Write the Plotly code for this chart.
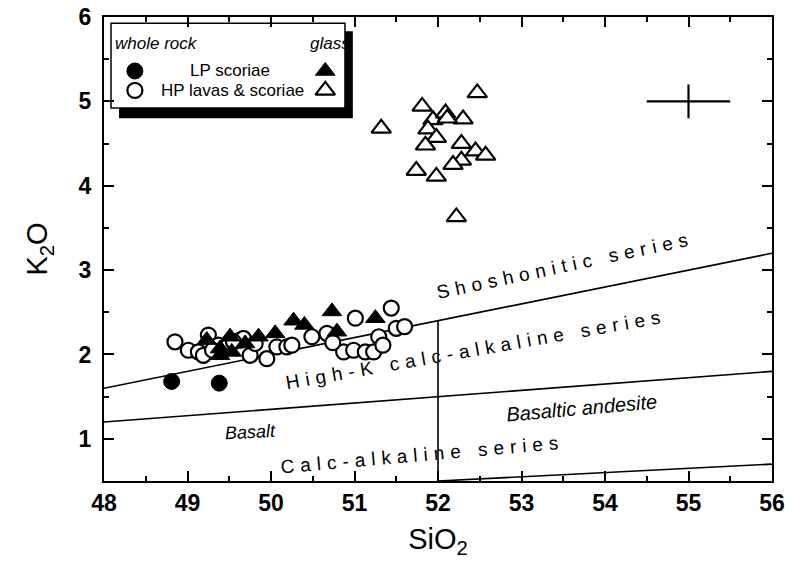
import plotly.graph_objects as go

# ---------------- data ----------------
# LP scoriae, whole rock (filled circles)
lp_wr_sio2 = [48.81, 49.38]
lp_wr_k2o = [1.68, 1.66]

# HP lavas & scoriae, whole rock (open circles)
hp_wr_sio2 = [48.85, 49.01, 49.13, 49.25, 49.19, 49.37, 49.49, 49.63, 49.67, 49.75,
              49.81, 49.95, 50.07, 50.19, 50.25, 50.49, 50.67, 50.87, 51.01, 50.99,
              51.13, 51.23, 51.29, 51.34, 51.44, 51.50, 51.60, 50.74, 49.30, 49.55]
hp_wr_k2o = [2.15, 2.05, 2.03, 2.23, 1.99, 2.11, 2.11, 2.17, 2.19, 1.99,
             2.13, 1.95, 2.09, 2.09, 2.11, 2.21, 2.25, 2.03, 2.43, 2.05,
             2.03, 2.03, 2.21, 2.11, 2.55, 2.31, 2.33, 2.14, 2.05, 2.15]

# LP scoriae, glass (filled triangles)
lp_gl_sio2 = [50.73, 51.25, 50.27, 50.40, 50.79, 50.05, 49.85, 49.51, 49.23, 49.69,
              49.39, 49.39, 49.53]
lp_gl_k2o = [2.51, 2.43, 2.40, 2.35, 2.27, 2.25, 2.21, 2.21, 2.17, 2.13,
             2.07, 1.99, 2.03]

# HP lavas & scoriae, glass (open triangles)
hp_gl_sio2 = [51.32, 52.47, 51.81, 51.94, 52.09, 52.30, 51.88, 51.98, 51.85, 52.28,
              52.45, 52.57, 52.28, 52.18, 51.74, 51.98, 52.22, 52.11]
hp_gl_k2o = [4.68, 5.10, 4.94, 4.78, 4.86, 4.79, 4.67, 4.57, 4.48, 4.50,
             4.41, 4.36, 4.30, 4.25, 4.18, 4.11, 3.63, 4.80]

# classification boundaries
sho_x = [48, 56]
sho_y = [1.6, 3.2]
hk_x = [48, 56]
hk_y = [1.2, 1.8]
ca_x = [52, 56]
ca_y = [0.5, 0.7]
div_x = [52, 52]
div_y = [0.5, 2.4]

# analytical error cross
err_x = [55.0]
err_y = [5.0]
err_dx = 0.5
err_dy = 0.2

x_ticks = [48, 49, 50, 51, 52, 53, 54, 55, 56]
y_ticks = [1, 2, 3, 4, 5, 6]

FONT = "Liberation Sans, Arial, Helvetica, sans-serif"

fig = go.Figure()

line_style = dict(color="black", width=1.6)
for xs, ys in [(sho_x, sho_y), (hk_x, hk_y), (ca_x, ca_y), (div_x, div_y)]:
    fig.add_trace(go.Scatter(x=xs, y=ys, mode="lines", line=line_style,
                             showlegend=False, hoverinfo="skip"))

fig.add_trace(go.Scatter(
    x=err_x, y=err_y, mode="markers", marker=dict(size=1, opacity=0),
    error_x=dict(type="constant", value=err_dx, width=0, thickness=2.2, color="black"),
    error_y=dict(type="constant", value=err_dy, width=0, thickness=2.2, color="black"),
    showlegend=False))

open_marker = dict(color="white", line=dict(color="black", width=2.2))
fill_marker = dict(color="black", line=dict(color="black", width=1))

fig.add_trace(go.Scatter(x=hp_wr_sio2, y=hp_wr_k2o, mode="markers",
                         marker=dict(symbol="circle", size=15, **open_marker),
                         showlegend=False))
fig.add_trace(go.Scatter(x=lp_gl_sio2, y=lp_gl_k2o, mode="markers",
                         marker=dict(symbol="triangle-up", size=17, **fill_marker),
                         showlegend=False))
fig.add_trace(go.Scatter(x=lp_wr_sio2, y=lp_wr_k2o, mode="markers",
                         marker=dict(symbol="circle", size=16, **fill_marker),
                         showlegend=False))
fig.add_trace(go.Scatter(x=hp_gl_sio2, y=hp_gl_k2o, mode="markers",
                         marker=dict(symbol="triangle-up", size=17, **open_marker),
                         showlegend=False))

# custom legend symbols
fig.add_trace(go.Scatter(x=[48.37], y=[5.36], mode="markers",
                         marker=dict(symbol="circle", size=16, **fill_marker), showlegend=False))
fig.add_trace(go.Scatter(x=[48.37], y=[5.13], mode="markers",
                         marker=dict(symbol="circle", size=15, **open_marker), showlegend=False))
fig.add_trace(go.Scatter(x=[50.65], y=[5.36], mode="markers",
                         marker=dict(symbol="triangle-up", size=17, **fill_marker), showlegend=False))
fig.add_trace(go.Scatter(x=[50.65], y=[5.13], mode="markers",
                         marker=dict(symbol="triangle-up", size=17, **open_marker), showlegend=False))

# legend box with shadow
fig.add_shape(type="rect", xref="x", yref="y", x0=48.18, x1=50.98, y0=4.80, y1=5.83,
              fillcolor="black", line=dict(width=0), layer="below")
fig.add_shape(type="rect", xref="x", yref="y", x0=48.084, x1=50.886, y0=4.92, y1=5.926,
              fillcolor="white", line=dict(color="black", width=1.5), layer="below")

ann = []
def txt(x, y, s, size=15, angle=0, xanchor="center", italic=False, spacing=None):
    t = s
    if spacing is not None:
        t = '<span style="letter-spacing:%spx">%s</span>' % (spacing, s)
    ann.append(dict(x=x, y=y, xref="x", yref="y", text=t, showarrow=False,
                    textangle=angle, xanchor=xanchor, yanchor="middle",
                    font=dict(family=FONT, size=size, color="black",
                              style="italic" if italic else "normal")))

txt(48.108, 5.69, "whole rock", size=17, xanchor="left", italic=True)
txt(50.443, 5.69, "glass", size=17, xanchor="left", italic=True)
txt(49.51, 5.36, "LP scoriae", size=17)
txt(48.66, 5.13, "HP lavas &amp; scoriae", size=17, xanchor="left")

txt(53.52, 3.06, "Shoshonitic series", size=19, angle=-12, spacing=6)
txt(52.45, 2.06, "High-K calc-alkaline series", size=19, angle=-10, spacing=6)
txt(51.82, 0.82, "Calc-alkaline series", size=19, angle=-5, spacing=6)
txt(49.75, 1.08, "Basalt", size=18, angle=-3, italic=True)
txt(53.72, 1.37, "Basaltic andesite", size=20, angle=-5, italic=True)

fig.update_layout(
    width=789, height=570,
    margin=dict(l=104, r=17, t=17, b=89),
    paper_bgcolor="white", plot_bgcolor="white",
    annotations=ann,
    font=dict(family=FONT, color="black"),
    xaxis=dict(range=[48, 56], tickvals=x_ticks, ticks="inside", ticklen=10, tickwidth=2,
               tickcolor="black", showline=True, linecolor="black", linewidth=2,
               mirror="ticks", showgrid=False, zeroline=False, automargin=False,
               ticklabeloverflow="allow",
               minor=dict(ticks="inside", ticklen=5, tickwidth=2, dtick=0.5, tickcolor="black"),
               tickfont=dict(family=FONT, size=23, weight="bold", color="black"),
               title=dict(text="SiO<sub>2</sub>", font=dict(family=FONT, size=29), standoff=14)),
    yaxis=dict(range=[0.5, 6], tickvals=y_ticks, ticks="inside", ticklen=10, tickwidth=2,
               tickcolor="black", showline=True, linecolor="black", linewidth=2,
               mirror="ticks", showgrid=False, zeroline=False, automargin=False,
               ticklabeloverflow="allow",
               minor=dict(ticks="inside", ticklen=5, tickwidth=2, dtick=0.5, tickcolor="black"),
               tickfont=dict(family=FONT, size=23, weight="bold", color="black"),
               ticklabelstandoff=6,
               title=dict(text="K<sub>2</sub>O", font=dict(family=FONT, size=29), standoff=22)),
)

# remove the page's default body margin so the figure fills the window exactly
fig.write_html("out.html", config={"displayModeBar": False},
               post_script="document.body.style.margin='0';")
